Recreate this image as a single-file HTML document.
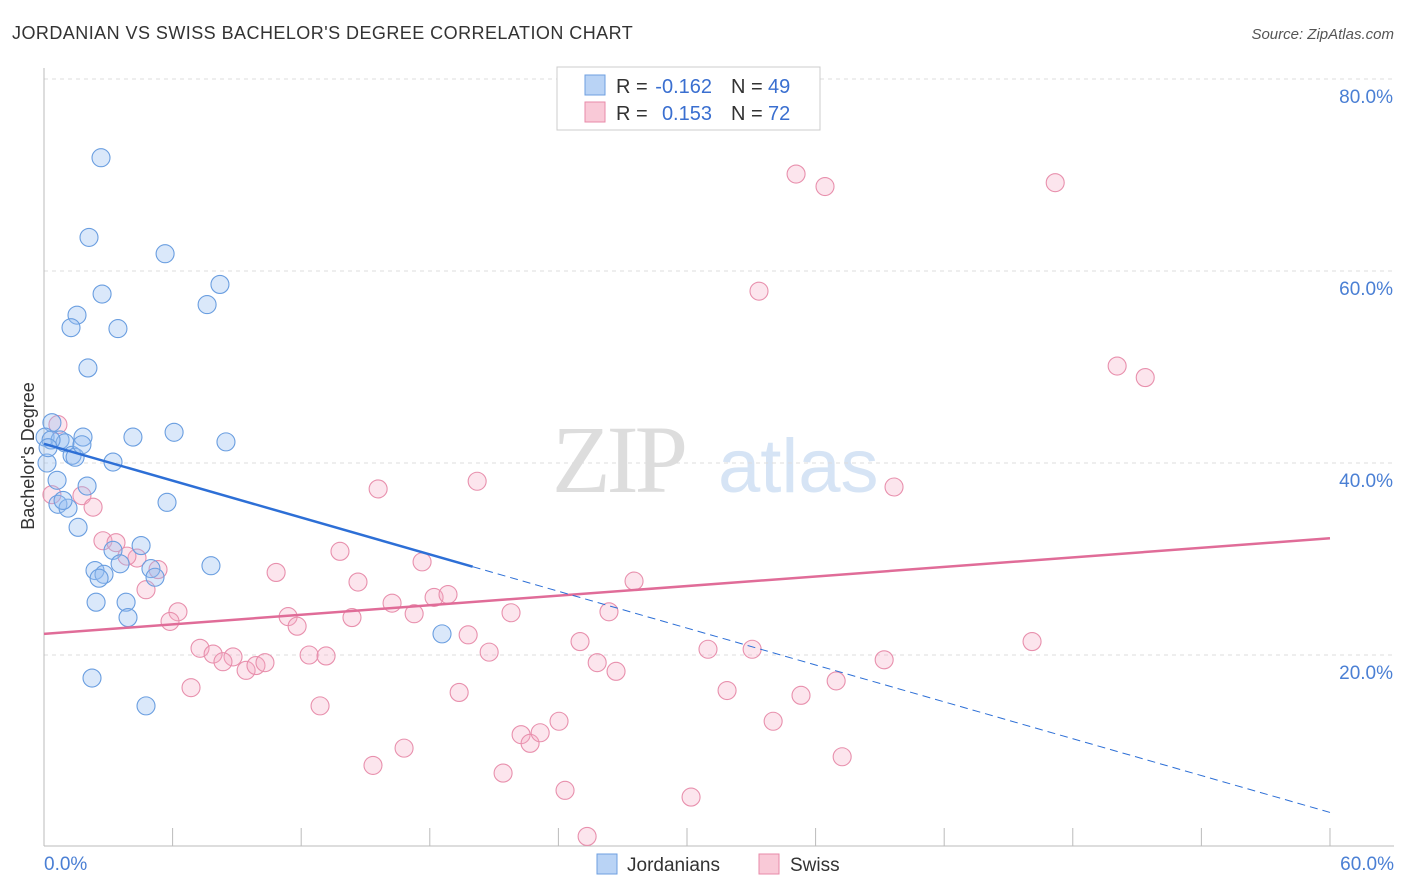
<!DOCTYPE html>
<html><head><meta charset="utf-8"><style>
body{margin:0;background:#fff;font-family:"Liberation Sans",sans-serif;}
svg{display:block}
</style></head><body>
<svg width="1406" height="892" xmlns="http://www.w3.org/2000/svg">
<text x="12" y="39" font-size="18" fill="#333" letter-spacing="0.45">JORDANIAN VS SWISS BACHELOR'S DEGREE CORRELATION CHART</text>
<text x="1394" y="39" font-size="15" fill="#555" font-style="italic" text-anchor="end">Source: ZipAtlas.com</text>
<g><text x="552" y="492" font-size="96" fill="#ddd" font-family="Liberation Serif,serif" letter-spacing="-4">ZIP</text><text x="718" y="492" font-size="76" fill="#d6e4f5">atlas</text></g>
<g id="grid"></g>
<g id="axes"></g>
<text transform="translate(34,456) rotate(-90)" font-size="18" fill="#333" text-anchor="middle">Bachelor's Degree</text>
<g id="marks"></g>
<g>
<rect x="557" y="67" width="263" height="63" fill="#fff" stroke="#ccc"/>
<rect x="585" y="75" width="20" height="20" fill="#b9d3f5" stroke="#6e9fe0"/>
<rect x="585" y="102" width="20" height="20" fill="#f9c9d7" stroke="#e88aa8"/>
<text x="616" y="93" font-size="20" fill="#333">R =</text>
<text x="712" y="93" font-size="20" fill="#3a6fd0" text-anchor="end">-0.162</text>
<text x="731" y="93" font-size="20" fill="#333">N =</text>
<text x="768" y="93" font-size="20" fill="#3a6fd0">49</text>
<text x="616" y="120" font-size="20" fill="#333">R =</text>
<text x="712" y="120" font-size="20" fill="#3a6fd0" text-anchor="end">0.153</text>
<text x="731" y="120" font-size="20" fill="#333">N =</text>
<text x="768" y="120" font-size="20" fill="#3a6fd0">72</text>
</g>
<g>
<rect x="597" y="854" width="20" height="20" fill="#b9d3f5" stroke="#6e9fe0"/>
<text x="627" y="871" font-size="19" fill="#333">Jordanians</text>
<rect x="759" y="854" width="20" height="20" fill="#f9c9d7" stroke="#e88aa8"/>
<text x="790" y="871" font-size="19" fill="#333">Swiss</text>
</g>
</svg>
<script>
const yTicks=[20,40,60,80];
const yTickLabels=["20.0%","40.0%","60.0%","80.0%"];
const xTickLabels=["0.0%","60.0%"];
const jordX=[2.66,2.10,5.65,2.71,8.21,7.61,1.54,1.26,3.45,2.05,0.37,0.05,0.75,1.82,0.98,4.15,6.07,8.49,1.31,1.45,3.22,0.14,0.61,2.01,5.74,0.65,1.12,1.59,3.22,4.53,3.55,7.79,2.38,2.80,2.57,4.99,5.18,2.43,3.83,3.92,18.57,2.24,4.76,0.33,1.77,0.89,0.19];
const jordY=[71.8,63.5,61.8,57.6,58.6,56.5,55.4,54.1,54.0,49.9,44.2,42.7,42.4,42.7,42.1,42.7,43.2,42.2,40.8,40.6,40.1,40.0,38.2,37.6,35.9,35.7,35.3,33.3,30.9,31.4,29.5,29.3,28.8,28.4,28.0,29.0,28.1,25.5,25.5,23.9,22.2,17.6,14.7,42.4,41.9,36.1,41.6];
const swissX=[35.09,36.44,47.18,33.36,50.07,51.38,0.65,0.37,15.59,20.21,39.66,1.77,2.29,2.75,3.36,4.34,3.87,5.32,4.76,13.81,10.83,14.65,17.64,18.20,18.85,16.24,17.27,27.53,6.25,5.88,11.39,11.81,14.37,21.79,26.36,7.28,7.89,8.82,8.35,9.43,9.89,10.31,12.37,13.16,19.79,20.77,25.01,25.81,26.69,30.98,33.04,39.20,46.10,6.86,19.37,12.88,31.87,35.32,36.96,16.80,15.35,22.26,22.68,23.15,24.03,21.42,34.02,37.24,24.31,30.19,25.34];
const swissY=[70.1,68.8,69.2,57.9,50.1,48.9,44.0,36.7,37.3,38.1,37.5,36.6,35.4,31.9,31.7,30.1,30.3,28.9,26.8,30.8,28.6,27.6,29.7,26.0,26.3,25.4,24.3,27.7,24.5,23.5,24.0,23.0,23.9,24.4,24.5,20.7,20.1,19.8,19.3,18.4,18.9,19.2,20.0,19.9,22.1,20.3,21.4,19.2,18.3,20.6,20.6,19.5,21.4,16.6,16.1,14.7,16.3,15.8,17.3,10.3,8.5,11.7,10.8,11.9,13.1,7.7,13.1,9.4,5.9,5.2,1.1];
const jordLine=[42.0,-0.64];
const swissLine=[22.2,0.166];
const NS="http://www.w3.org/2000/svg";
const X=v=>44+v*21.433, Y=v=>847-v*9.6;
function mk(t,a,p){const e=document.createElementNS(NS,t);for(const k in a)e.setAttribute(k,a[k]);p.appendChild(e);return e;}
const grid=document.getElementById('grid'),axes=document.getElementById('axes'),marks=document.getElementById('marks');
mk('line',{x1:44,x2:1394,y1:79,y2:79,stroke:'#ddd','stroke-dasharray':'4,4'},grid);
yTicks.forEach((t,i)=>{
 const l=mk('line',{x1:44,x2:1394,y1:Y(t),y2:Y(t),stroke:'#ddd','stroke-dasharray':'4,4'},grid);
 
 
 const tx=mk('text',{x:1393,y:Y(t)+24,'font-size':19,fill:'#4a7fd4','text-anchor':'end'},axes);
 tx.textContent=yTickLabels[i];
 
 
});
mk('line',{x1:44,x2:44,y1:68,y2:846,stroke:'#bbb'},axes);
mk('line',{x1:44,x2:1394,y1:846,y2:846,stroke:'#bbb'},axes);
for(let i=0;i<=10;i++){const t=mk('line',{x1:X(i*6),x2:X(i*6),y1:828,y2:846,stroke:'#bbb'},axes);}
const xl0=mk('text',{x:44,y:870,'font-size':19,fill:'#4a7fd4'},axes);xl0.textContent=xTickLabels[0];


const xl1=mk('text',{x:1394,y:870,'font-size':19,fill:'#4a7fd4','text-anchor':'end'},axes);xl1.textContent=xTickLabels[1];


swissX.forEach((v,i)=>{const c=mk('circle',{cx:X(v),cy:Y(swissY[i]),r:9,fill:'rgba(246,170,195,0.3)',stroke:'#e890ad','stroke-width':1.1},marks);
 
 });
jordX.forEach((v,i)=>{const c=mk('circle',{cx:X(v),cy:Y(jordY[i]),r:9,fill:'rgba(150,190,240,0.35)',stroke:'#6a9ee0','stroke-width':1.1},marks);
 
 });
const f=(p,x)=>p[0]+p[1]*x;
const sl=mk('line',{x1:X(0),y1:Y(f(swissLine,0)),x2:X(60),y2:Y(f(swissLine,60)),stroke:'#e06c98','stroke-width':2.5},marks);


const jl=mk('line',{x1:X(0),y1:Y(f(jordLine,0)),x2:X(20),y2:Y(f(jordLine,20)),stroke:'#2d6fd6','stroke-width':2.5},marks);


const jd=mk('line',{x1:X(20),y1:Y(f(jordLine,20)),x2:X(60),y2:Y(f(jordLine,60)),stroke:'#2d6fd6','stroke-width':1,'stroke-dasharray':'8,5'},marks);


</script>
</body></html>
